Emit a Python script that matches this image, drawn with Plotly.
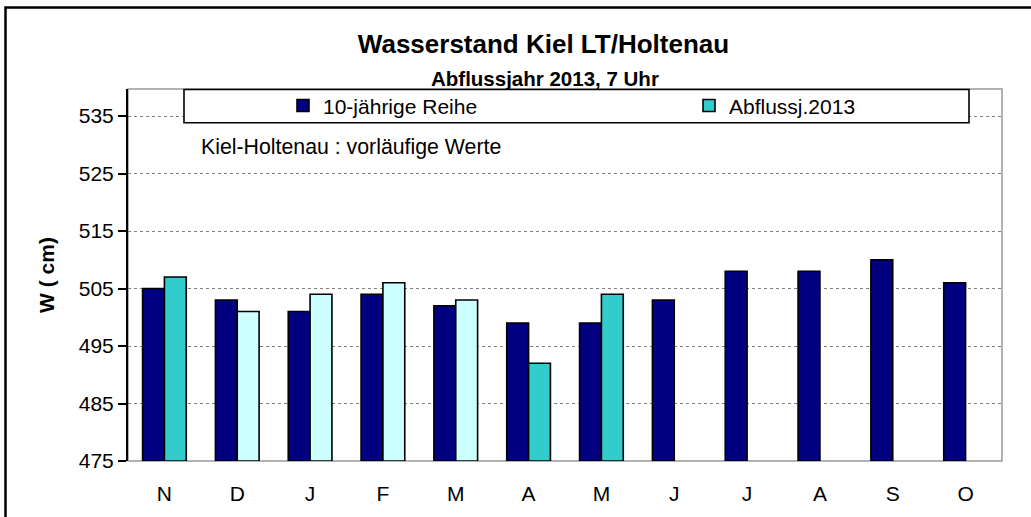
import plotly.graph_objects as go

months = ["N", "D", "J", "F", "M", "A", "M", "J", "J", "A", "S", "O"]
reihe10 = [505, 503, 501, 504, 502, 499, 499, 503, 508, 508, 510, 506]
abfluss2013 = [507, 501, 504, 506, 503, 492, 504, None, None, None, None, None]
abfluss_colors = ["#33CCCC", "#CCFFFF", "#CCFFFF", "#CCFFFF", "#CCFFFF", "#33CCCC", "#33CCCC",
                  "#33CCCC", "#33CCCC", "#33CCCC", "#33CCCC", "#33CCCC"]
yticks = [475, 485, 495, 505, 515, 525, 535]

W, H = 1031, 517
L, R, T, B = 128, 1002, 89, 464

def px_x(p):
    return (p - L) / (R - L)

def px_y(p):
    return (B - p) / (B - T)

x = list(range(len(months)))
base = 475

fig = go.Figure()
fig.add_trace(go.Bar(
    x=x, y=[v - base for v in reihe10], base=base, name="10-jährige Reihe",
    marker=dict(color="#000080", line=dict(color="black", width=1.6)),
    legend="legend",
))
fig.add_trace(go.Bar(
    x=x, y=[(v - base) if v is not None else None for v in abfluss2013], base=base,
    name="Abflussj.2013",
    marker=dict(color=abfluss_colors, line=dict(color="black", width=1.6)),
    legend="legend2",
))

font = "Liberation Sans, Arial, sans-serif"
leg_common = dict(orientation="h", xanchor="left", yanchor="middle",
                  bgcolor="rgba(0,0,0,0)", borderwidth=0,
                  font=dict(size=21, family=font), itemclick=False)

fig.update_layout(
    width=W, height=H,
    margin=dict(l=L, r=W - R, t=T, b=H - B),
    paper_bgcolor="white", plot_bgcolor="white",
    barmode="group", bargap=0.4, bargroupgap=0,
    font=dict(family=font, size=21, color="black"),
    title=dict(text="<b>Wasserstand Kiel LT/Holtenau</b>", x=543.5 / W, y=1 - 44 / H,
               xanchor="center", yanchor="middle", font=dict(size=26, family=font)),
    showlegend=True,
    legend=dict(x=px_x(283), y=px_y(106), **leg_common),
    legend2=dict(x=px_x(689), y=px_y(106), **leg_common),
    xaxis=dict(tickmode="array", tickvals=x, ticktext=months, range=[-0.5, 11.5],
               showgrid=False, showline=False, ticks="", ticklabelstandoff=18,
               tickfont=dict(size=21), zeroline=False),
    yaxis=dict(range=[475, 539.7], tickmode="array", tickvals=yticks,
               showgrid=True, gridcolor="#808080", griddash="dot", gridwidth=1,
               showline=True, linecolor="black", linewidth=2,
               ticks="outside", ticklen=8, tickwidth=2, tickcolor="black",
               tickfont=dict(size=21), zeroline=False,
               title=dict(text="<b>W ( cm)</b>", font=dict(size=21), standoff=18)),
    annotations=[
        dict(text="<b>Abflussjahr 2013, 7 Uhr</b>", xref="paper", yref="paper",
             x=px_x(545), y=px_y(78.5), xanchor="center", yanchor="middle",
             showarrow=False, font=dict(size=20.5)),
        dict(text="Kiel-Holtenau : vorläufige Werte", xref="paper", yref="paper",
             x=px_x(199), y=px_y(147), xanchor="left", yanchor="middle",
             showarrow=False, font=dict(size=21.3)),
    ],
    shapes=[
        dict(type="rect", xref="paper", yref="paper", x0=0, x1=1, y0=0, y1=1,
             line=dict(color="#999999", width=1.5), layer="below"),
        dict(type="rect", xref="paper", yref="paper", x0=px_x(184), x1=px_x(969),
             y0=px_y(123), y1=px_y(89.5), fillcolor="white",
             line=dict(color="black", width=1.6), layer="above"),
        dict(type="path", xref="paper", yref="paper",
             path=f"M {px_x(5.5)},{px_y(530)} L {px_x(5.5)},{px_y(6.8)} L {px_x(1040)},{px_y(6.8)}",
             line=dict(color="black", width=2.5), layer="above"),
    ],
)

fig.write_html("out.html", config={"displayModeBar": False},
               post_script="document.body.style.margin='0';")
